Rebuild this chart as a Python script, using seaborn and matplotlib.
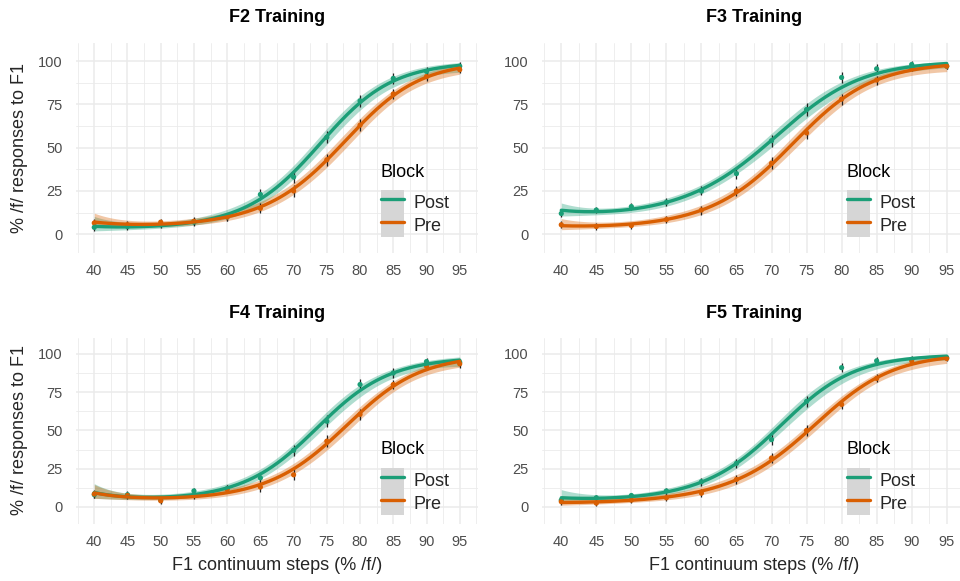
import numpy as np
import pandas as pd
import matplotlib
matplotlib.use("Agg")
import matplotlib.pyplot as plt
import seaborn as sns
from matplotlib.patches import Patch
from matplotlib.lines import Line2D
from matplotlib.legend_handler import HandlerTuple
from matplotlib.ticker import MultipleLocator

# ---------------- data ----------------
steps = [40, 45, 50, 55, 60, 65, 70, 75, 80, 85, 90, 95]
panel_titles = ["F2 Training", "F3 Training", "F4 Training", "F5 Training"]
blocks = ["Post", "Pre"]

f2_post = [4, 4.5, 5.5, 7, 10, 23, 33, 56, 77, 90, 94, 97]
f2_pre = [6.5, 5.5, 7, 7.5, 10, 15, 25, 43, 63, 81, 91, 95]
f3_post = [12, 14, 16, 18.5, 25, 35, 54, 72, 90.5, 95.5, 98, 97]
f3_pre = [5.5, 4.5, 5, 8.5, 14, 25, 41, 58.5, 78, 89, 96, 97]
f4_post = [8, 8, 4.5, 10.5, 12, 19, 37, 56, 80, 87.5, 95, 94.5]
f4_pre = [8.5, 7.5, 4, 7.5, 11.5, 13, 21, 43, 60.5, 80, 92, 93.5]
f5_post = [4.5, 6, 7.5, 10.5, 16.5, 28.5, 44, 69, 91, 95.5, 96.5, 97.5]
f5_pre = [3.5, 2.5, 4.5, 6, 9, 18, 32, 50, 67, 84, 95.5, 97]

f2_se = [2.2, 2.0, 2.0, 2.2, 2.4, 3.0, 3.6, 3.6, 3.4, 3.0, 2.6, 2.2]
f3_se = [2.0, 1.8, 1.8, 2.2, 2.6, 3.0, 3.4, 3.6, 3.2, 2.6, 2.0, 1.8]
f4_se = [2.4, 2.2, 2.0, 2.2, 2.6, 3.0, 3.6, 3.8, 3.4, 3.0, 2.6, 2.4]
f5_se = [2.0, 1.8, 1.8, 2.2, 2.6, 3.0, 3.4, 3.6, 3.0, 2.6, 2.0, 1.8]

panel_values = {
    "F2 Training": (f2_post, f2_pre, f2_se),
    "F3 Training": (f3_post, f3_pre, f3_se),
    "F4 Training": (f4_post, f4_pre, f4_se),
    "F5 Training": (f5_post, f5_pre, f5_se),
}

palette = {"Post": "#1b9e77", "Pre": "#d95f02"}

# ---------------- style ----------------
sns.set_theme(style="white")
plt.rcParams["font.family"] = ["Liberation Sans", "DejaVu Sans"]

W, H = 960, 581
fig = plt.figure(figsize=(W / 100, H / 100), dpi=100)


def px_axes(left, right, top, bottom):
    return fig.add_axes([left / W, 1 - bottom / H, (right - left) / W, (bottom - top) / H])


boxes = [
    (76, 478, 43, 253),
    (542, 966, 43, 253),
    (76, 478, 338, 523.5),
    (542, 966, 338, 523.5),
]
title_y = [18, 18, 314, 314]
# legend placement (pixels above the panel bottom): key block bottom, "Block" title centre
legend_key_off = [16, 16, 8.5, 8.5]
legend_title_off = [80, 80, 74.5, 74.5]


def fit_curve(x, y, se, grid, deg=3):
    """Weighted cubic fit on the logit scale (as a binomial model would give)."""
    p = np.asarray(y, float) / 100
    s = np.asarray(se, float) / 100
    z = np.log(p / (1 - p))
    s_z = s / (p * (1 - p))
    xs = (np.asarray(x, float) - 67.5) / 27.5
    gs = (grid - 67.5) / 27.5
    coef, cov = np.polyfit(xs, z, deg, w=1 / s_z, cov="unscaled")
    V = np.vander(gs, deg + 1)
    fz = V @ coef
    sf = np.sqrt(np.einsum("ij,jk,ik->i", V, cov, V))
    expit = lambda v: 100 / (1 + np.exp(-v))
    return expit(fz), expit(fz - 1.96 * sf), expit(fz + 1.96 * sf)


grid = np.linspace(40, 95, 300)

for i, title in enumerate(panel_titles):
    l, r, t, b = boxes[i]
    ax = px_axes(l, r, t, b)
    post, pre, se = panel_values[title]

    rows = []
    curve_rows = []
    for blk, vals in zip(blocks, (post, pre)):
        for s, v, e in zip(steps, vals, se):
            rows.append({"step": s, "resp": v, "se": e, "Block": blk})
        fit, lo, hi = fit_curve(steps, vals, se, grid)
        for g, f, a, c in zip(grid, fit, lo, hi):
            curve_rows.append({"step": g, "fit": f, "lo": a, "hi": c, "Block": blk})
    pts = pd.DataFrame(rows)
    cur = pd.DataFrame(curve_rows)

    for blk in blocks:
        c = cur[cur.Block == blk]
        ax.fill_between(c.step, c.lo, c.hi, color=palette[blk], alpha=0.35, lw=0, zorder=2)
    for blk in blocks:
        p = pts[pts.Block == blk]
        ax.errorbar(p.step, p.resp, yerr=p.se, fmt="none", ecolor="#222222",
                    elinewidth=0.9, capsize=0, zorder=4)
    sns.scatterplot(data=pts, x="step", y="resp", hue="Block", palette=palette,
                    s=14, edgecolor="none", legend=False, ax=ax, zorder=5)
    sns.lineplot(data=cur, x="step", y="fit", hue="Block", palette=palette,
                 linewidth=2.4, legend=False, ax=ax, zorder=6)

    ax.set_xlim(37.25, 97.75)
    ax.set_ylim(-10.8, 110.4)
    ax.xaxis.set_major_locator(MultipleLocator(5))
    ax.xaxis.set_minor_locator(MultipleLocator(2.5))
    ax.yaxis.set_major_locator(MultipleLocator(25))
    ax.yaxis.set_minor_locator(MultipleLocator(12.5))
    ax.grid(which="major", color="#ebebeb", linewidth=1.1, zorder=0)
    ax.grid(which="minor", color="#ebebeb", linewidth=0.6, zorder=0)
    ax.set_axisbelow(True)
    for sp in ax.spines.values():
        sp.set_visible(False)
    ax.tick_params(which="both", length=0)
    ax.tick_params(axis="x", pad=8, labelsize=10.5, labelcolor="#4d4d4d")
    ax.tick_params(axis="y", pad=9.5, labelsize=10.5, labelcolor="#4d4d4d")
    ax.set_xlabel("")
    ax.set_ylabel("")
    ax.set_facecolor("white")

    fig.text((l + r) / 2 / W, 1 - title_y[i] / H, title, ha="center", va="center",
             fontsize=13, fontweight="bold", color="black")

    # legend (grey key background like ggplot's se ribbon key)
    handles = [
        (Patch(facecolor="#d6d6d6", edgecolor="none"), Line2D([], [], color=palette[blk], lw=2.4))
        for blk in blocks
    ]
    axw = r - l
    axh = b - t
    ax.legend(handles, blocks, handler_map={tuple: HandlerTuple(ndivide=1, pad=0)},
              loc="lower left", bbox_to_anchor=(305 / axw, legend_key_off[i] / axh),
              frameon=False, fontsize=13, labelspacing=0, handlelength=1.3,
              handleheight=1.62, handletextpad=0.5, borderpad=0, borderaxespad=0)
    ax.text(305 / axw, legend_title_off[i] / axh, "Block", transform=ax.transAxes,
            ha="left", va="center", fontsize=13, color="black")

# axis labels
fig.text(20 / W, 1 - 148 / H, "% /f/ responses to F1", rotation=90, ha="center", va="center", fontsize=13)
fig.text(20 / W, 1 - 430 / H, "% /f/ responses to F1", rotation=90, ha="center", va="center", fontsize=13)
fig.text(277 / W, 1 - 565 / H, "F1 continuum steps (% /f/)", ha="center", va="center", fontsize=13)
fig.text(754 / W, 1 - 565 / H, "F1 continuum steps (% /f/)", ha="center", va="center", fontsize=13)

fig.savefig("out.png", dpi=100)
